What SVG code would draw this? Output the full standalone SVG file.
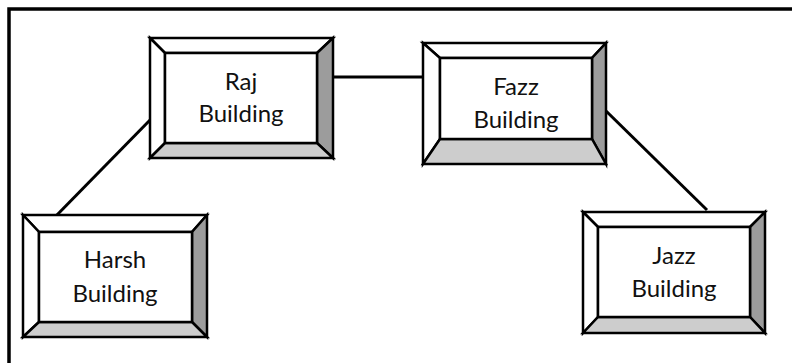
<svg xmlns="http://www.w3.org/2000/svg" width="792" height="363" viewBox="0 0 792 363">
  <style>
    .frame { fill: none; stroke: #000; stroke-width: 3.5; }
    .bevel polygon { stroke: #000; stroke-width: 2.5; stroke-linejoin: miter; }
    .lite { fill: #fff; }
    .dark { fill: #9c9c9c; }
    .mid { fill: #cdcdcd; }
    .face { fill: #fff; stroke: #000; stroke-width: 2.5; }
    .label { font-family: Lato, "Liberation Sans", sans-serif; font-size: 24px; fill: #111; text-anchor: middle; }
    .link { stroke: #000; stroke-width: 3; fill: none; }
  </style>
  <rect width="792" height="363" fill="#fff"/>
  <!-- page frame running off the right and bottom edges -->
  <path class="frame" d="M9 363 V9 H792"/>

  <g id="connectors">
    <line class="link" x1="333" y1="77" x2="423" y2="77"/>
    <line class="link" x1="152" y1="118" x2="53" y2="219"/>
    <line class="link" x1="604" y1="109" x2="707" y2="210"/>
  </g>

  <g id="raj" class="bevel">
    <polygon class="lite" points="150,38 333,38 317,53 165,53"/>
    <polygon class="lite" points="150,38 165,53 165,143 150,158"/>
    <polygon class="dark" points="333,38 333,158 317,143 317,53"/>
    <polygon class="mid" points="150,158 165,143 317,143 333,158"/>
    <rect class="face" x="165" y="53" width="152" height="90"/>
    <text class="label" x="241" y="90">Raj</text>
    <text class="label" x="241" y="122">Building</text>
  </g>

  <g id="fazz" class="bevel">
    <polygon class="lite" points="423,43 606,43 592,58 440,58"/>
    <polygon class="lite" points="423,43 440,58 440,139 423,164"/>
    <polygon class="dark" points="606,43 606,164 592,139 592,58"/>
    <polygon class="mid" points="423,164 440,139 592,139 606,164"/>
    <rect class="face" x="440" y="58" width="152" height="81"/>
    <text class="label" x="516" y="95">Fazz</text>
    <text class="label" x="516" y="128">Building</text>
  </g>

  <g id="harsh" class="bevel">
    <polygon class="lite" points="23,215 207,215 192,232 39,232"/>
    <polygon class="lite" points="23,215 39,232 39,322 23,337"/>
    <polygon class="dark" points="207,215 207,337 192,322 192,232"/>
    <polygon class="mid" points="23,337 39,322 192,322 207,337"/>
    <rect class="face" x="39" y="232" width="153" height="90"/>
    <text class="label" x="115" y="268">Harsh</text>
    <text class="label" x="115" y="302">Building</text>
  </g>

  <g id="jazz" class="bevel">
    <polygon class="lite" points="583,212 765,212 750,227 598,227"/>
    <polygon class="lite" points="583,212 598,227 598,317 583,333"/>
    <polygon class="dark" points="765,212 765,333 750,317 750,227"/>
    <polygon class="mid" points="583,333 598,317 750,317 765,333"/>
    <rect class="face" x="598" y="227" width="152" height="90"/>
    <text class="label" x="674" y="264">Jazz</text>
    <text class="label" x="674" y="297">Building</text>
  </g>
</svg>
